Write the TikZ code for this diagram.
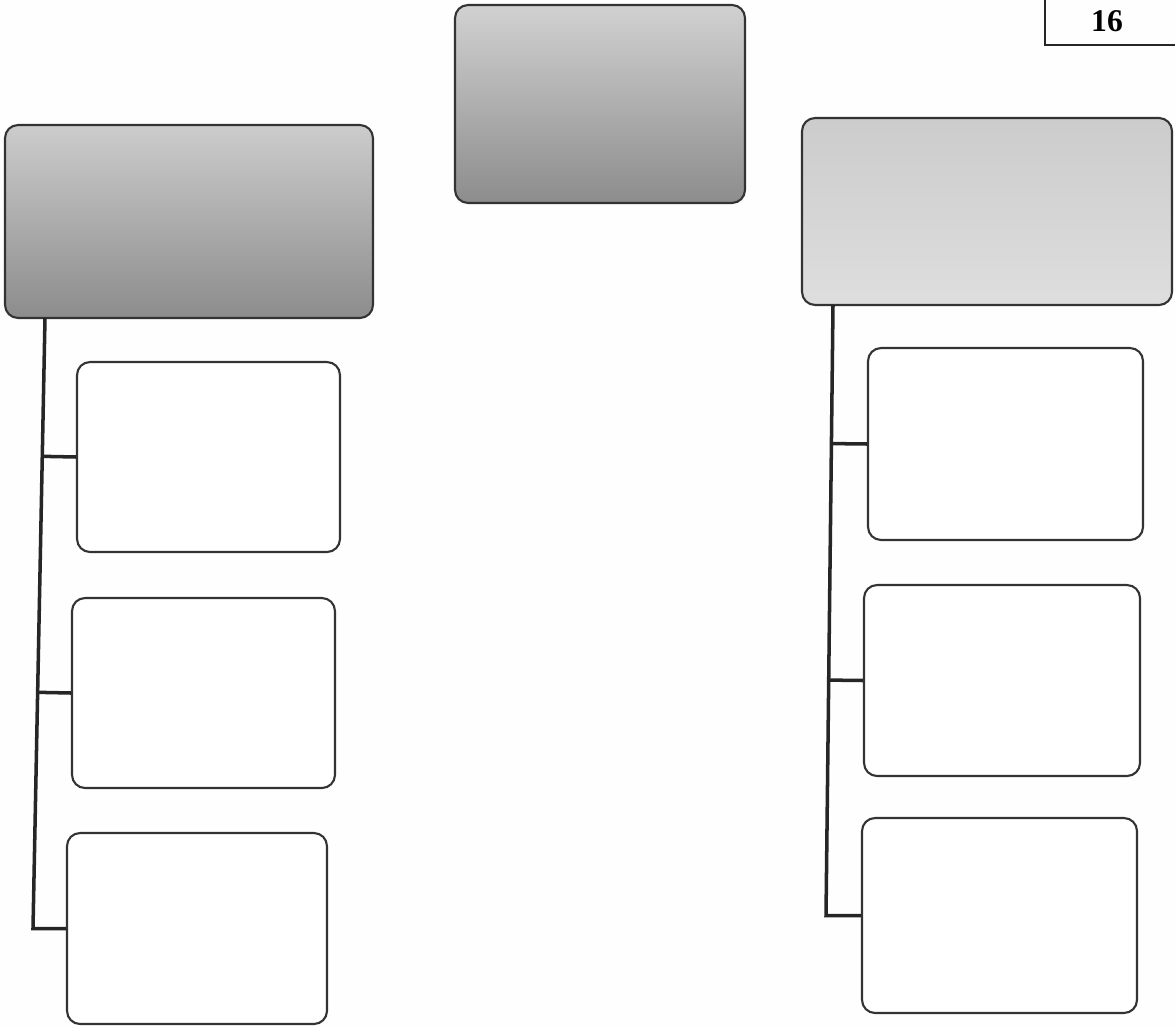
\documentclass[tikz,border=0pt]{standalone}
\usepackage{fontspec}
\newfontfamily\numfont{Liberation Serif}
\usetikzlibrary{calc}
\tikzset{
  box/.style={draw=black!80, line width=1.2pt, rounded corners=0.26cm, fill=white, inner sep=0pt},
  headbox/.style={box, shade, top color=#1, bottom color=black!45},
  trunk/.style={draw=black!85, line width=2pt},
}
\begin{document}
\begin{tikzpicture}[x=0.02cm, y=-0.02cm]
\useasboundingbox (0,0) rectangle (1175,1027);
\fill[white!96!black!4] (0,0) rectangle (1175,1027);
% page number box
\begin{scope}
\clip (0,0) rectangle (1175,1027);
\node[draw=black!85, line width=1pt, minimum width=3cm, minimum height=1.3cm, inner sep=0pt] (pg) at (1120,12.5) {};
\end{scope}
\node[font=\numfont\fontsize{18}{22}\selectfont\bfseries] (num) at (1107,21) {16};
% header boxes
\node[headbox=black!18, minimum width=5.8cm, minimum height=3.96cm] (top) at (600,104) {};
\node[headbox=black!20, minimum width=7.36cm, minimum height=3.86cm] (LH) at (189,221.5) {};
\node[box, shade, top color=black!20, bottom color=black!13, minimum width=7.4cm, minimum height=3.74cm] (RH) at (987,211.5) {};
% left column
\node[box, minimum width=5.26cm, minimum height=3.8cm] (L1) at (208.5,457) {};
\node[box, minimum width=5.26cm, minimum height=3.8cm] (L2) at (203.5,693) {};
\node[box, minimum width=5.2cm, minimum height=3.82cm] (L3) at (197,928.5) {};
% right column
\node[box, minimum width=5.5cm, minimum height=3.84cm] (R1) at (1005.5,444) {};
\node[box, minimum width=5.52cm, minimum height=3.82cm] (R2) at (1002,680.5) {};
\node[box, minimum width=5.5cm, minimum height=3.9cm] (R3) at (999.5,915.5) {};
% left connectors
\coordinate (lt) at (45,318);
\coordinate (lb) at (33,928.5);
\draw[trunk] (lt) -- (lb) -- (L3.west);
\draw[trunk] ($(lt)!(L1.west)!(lb)$) -- (L1.west);
\draw[trunk] ($(lt)!(L2.west)!(lb)$) -- (L2.west);
% right connectors
\coordinate (rt) at (833,305);
\coordinate (rb) at (826,915.5);
\draw[trunk] (rt) -- (rb) -- (R3.west);
\draw[trunk] ($(rt)!(R1.west)!(rb)$) -- (R1.west);
\draw[trunk] ($(rt)!(R2.west)!(rb)$) -- (R2.west);
\end{tikzpicture}
\end{document}
